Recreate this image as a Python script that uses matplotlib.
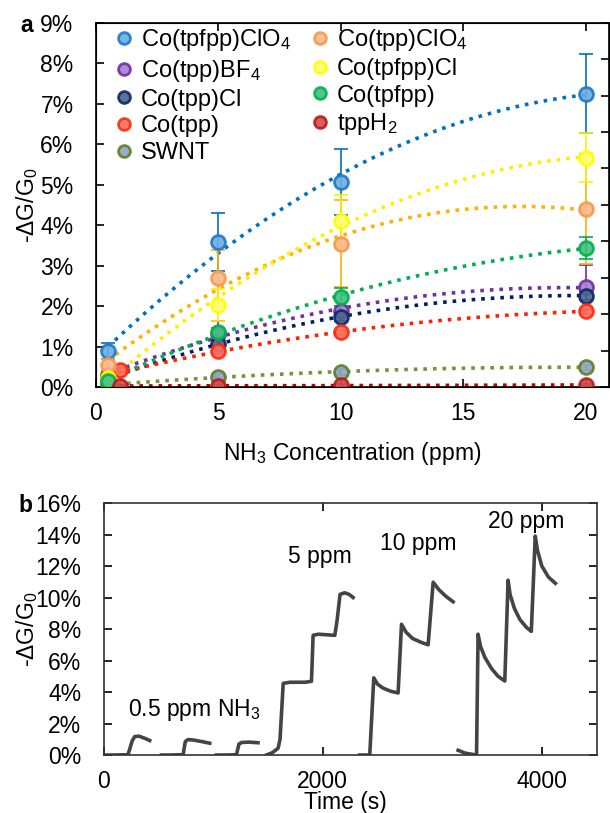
import numpy as np
import matplotlib
matplotlib.use("Agg")
import matplotlib.pyplot as plt
from matplotlib.ticker import FuncFormatter

plt.rcParams['font.family'] = ['Liberation Sans', 'DejaVu Sans']
plt.rcParams['mathtext.fontset'] = 'custom'
plt.rcParams['mathtext.rm'] = 'Liberation Sans'
plt.rcParams['mathtext.default'] = 'regular'

# panel a: response vs NH3 concentration (values in %)
names = ['Co(tpfpp)ClO$_4$', 'Co(tpp)BF$_4$', 'Co(tpp)Cl', 'Co(tpp)', 'SWNT',
         'Co(tpp)ClO$_4$', 'Co(tpfpp)Cl', 'Co(tpfpp)', 'tppH$_2$']
conc = [
    [0.5, 5, 10, 20],
    [0.5, 5, 10, 20],
    [0.5, 5, 10, 20],
    [0.5, 1, 5, 10, 20],
    [0.5, 5, 10, 20],
    [0.5, 5, 10, 20],
    [0.5, 5, 10, 20],
    [0.5, 5, 10, 20],
    [1, 5, 10, 20],
]
resp = [
    [0.88, 3.58, 5.06, 7.25],
    [0.30, 1.30, 1.89, 2.46],
    [0.20, 1.07, 1.73, 2.26],
    [0.25, 0.42, 0.88, 1.35, 1.87],
    [0.05, 0.25, 0.37, 0.49],
    [0.55, 2.69, 3.54, 4.40],
    [0.22, 2.02, 4.11, 5.67],
    [0.15, 1.36, 2.22, 3.43],
    [0.03, 0.02, 0.04, 0.05],
]
errs = [
    [0.20, 0.71, 0.82, 0.98],
    [0.05, 0.34, 0.10, 0.55],
    [0.05, 0.10, 0.10, 0.12],
    [0.05, 0.05, 0.06, 0.06, 0.06],
    [0.03, 0.08, 0.08, 0.06],
    [0.15, 0.70, 1.08, 1.35],
    [0.05, 0.40, 0.64, 0.60],
    [0.05, 0.10, 0.22, 0.27],
    [0.02, 0.02, 0.03, 0.03],
]
edge_colors = ['#1f78c8', '#7030a0', '#0d2a66', '#ff2a10', '#5f7f2a',
               '#f59a50', '#ffff00', '#00b050', '#c01818']
face_colors = ['#6aaee2', '#a77fcf', '#4a6590', '#ff7060', '#8ea4c4',
               '#f8b88a', '#ffff70', '#40c080', '#d05050']
line_colors = ['#0070c0', '#7030a0', '#002060', '#ff2000', '#76923c',
               '#ffb000', '#ffee00', '#00b050', '#c00000']

# panel b: time trace (NaN separates the runs)
time_s = [10, 100, 222, 260, 283, 320, 380, 420, np.nan,
          527, 600, 725, 745, 770, 820, 900, 968, np.nan,
          1029, 1120, 1212, 1235, 1260, 1330, 1409, np.nan,
          1486, 1540, 1592, 1610, 1639, 1700, 1837, 1897, 1912, 1960, 2110, 2130, 2158, 2200, 2240, 2277, np.nan,
          2338, 2429, 2466, 2500, 2550, 2620, 2688, 2719, 2760, 2820, 2900, 2962, 3008, 3060, 3120, 3190, np.nan,
          3236, 3300, 3404, 3418, 3440, 3480, 3540, 3600, 3662, 3692, 3710, 3750, 3800, 3860, 3904, 3940, 3960, 4000, 4060, 4124]
signal = [0.0, 0.0, 0.02, 0.9, 1.17, 1.2, 1.05, 0.92, np.nan,
          0.0, 0.0, 0.02, 0.85, 0.98, 0.95, 0.85, 0.75, np.nan,
          0.0, 0.0, 0.02, 0.7, 0.8, 0.82, 0.78, np.nan,
          0.0, 0.15, 0.43, 1.0, 4.55, 4.62, 4.62, 4.68, 7.6, 7.67, 7.6, 8.5, 10.2, 10.3, 10.2, 10.0, np.nan,
          0.0, 0.0, 4.9, 4.5, 4.25, 4.05, 3.94, 8.3, 7.8, 7.4, 7.15, 7.0, 10.97, 10.5, 10.1, 9.73, np.nan,
          0.3, 0.12, 0.0, 7.67, 6.9, 6.2, 5.5, 5.0, 4.7, 11.1, 10.2, 9.3, 8.6, 8.1, 7.85, 13.9, 13.0, 12.0, 11.3, 10.9]
ann_text = ['0.5 ppm NH$_3$', '5 ppm', '10 ppm', '20 ppm']
ann_x = [823, 1973, 2876, 3858]
ann_y = [2.83, 12.6, 13.45, 14.8]

fig = plt.figure(figsize=(6.10, 8.13), dpi=100)
pct = FuncFormatter(lambda v, p: f"{v:.0f}%")
FS = 16.5

# ---- panel a ----
ax = fig.add_axes([0.157, 0.524, 0.841, 0.448])
handles = []
for i in range(len(names)):
    x = np.array(conc[i])
    y = np.array(resp[i])
    coef = np.polyfit(x, y, 2)
    xf = np.linspace(x.min(), x.max(), 200)
    ax.plot(xf, np.polyval(coef, xf), ':', color=line_colors[i], lw=2.6, zorder=2)
    ax.errorbar(x, y, yerr=errs[i], fmt='none', ecolor=line_colors[i],
                elinewidth=1.2, capsize=5, capthick=1.2, zorder=3)
    h, = ax.plot(x, y, 'o', ms=10, mfc=face_colors[i], mec=edge_colors[i],
                 mew=2, alpha=0.9, zorder=4, label=names[i])
    handles.append(h)

ax.set_xlim(0, 20.95)
ax.set_ylim(0, 9)
ax.set_xticks([0, 5, 10, 15, 20])
ax.set_yticks(range(0, 10))
ax.yaxis.set_major_formatter(pct)
ax.tick_params(direction='in', length=6, width=1.2, labelsize=FS, top=True)
ax.tick_params(axis='x', pad=11)
ax.tick_params(axis='y', pad=16)
for s in ax.spines.values():
    s.set_linewidth(1.2)
ax.set_xlabel('NH$_3$ Concentration (ppm)', fontsize=FS)
ax.xaxis.set_label_coords(0.5, -0.146)
ax.set_ylabel('-ΔG/G$_0$', fontsize=FS)
ax.yaxis.set_label_coords(-0.108, 0.5)
ax2 = ax.twinx()
ax2.set_ylim(0, 10)
ax2.set_yticks(range(0, 11))
ax2.tick_params(direction='in', length=6, width=1.2, labelright=False)
ax.legend(handles=handles, ncol=2, loc='upper left', bbox_to_anchor=(0.0, 1.02),
          frameon=False, fontsize=FS + 0.5,
          handletextpad=0.0, labelspacing=0.2, columnspacing=0.55,
          borderaxespad=0.1, handlelength=1.4, markerscale=0.85)
fig.text(27 / 610, 1 - 25 / 813, 'a', fontsize=FS, fontweight='bold', ha='center', va='center')

# ---- panel b ----
bx = fig.add_axes([0.170, 0.0713, 0.808, 0.310])
bx.plot(time_s, signal, '-', color='#444444', lw=2.6)
for t, xx, yy in zip(ann_text, ann_x, ann_y):
    bx.text(xx, yy, t, fontsize=FS, ha='center', va='center')
bx.set_xlim(0, 4500)
bx.set_ylim(0, 16)
bx.set_xticks([0, 2000, 4000])
bx.set_yticks(range(0, 17, 2))
bx.yaxis.set_major_formatter(pct)
bx.tick_params(direction='in', length=6, width=1.2, labelsize=FS, top=True, right=True)
bx.tick_params(axis='x', pad=11)
bx.tick_params(axis='y', pad=16)
for s in bx.spines.values():
    s.set_linewidth(1.2)
    s.set_color('#333333')
bx.set_xlabel('Time (s)', fontsize=FS)
bx.xaxis.set_label_coords(0.49, -0.143)
bx.set_ylabel('-ΔG/G$_0$', fontsize=FS)
bx.yaxis.set_label_coords(-0.13, 0.5)
fig.text(25 / 610, 1 - 505 / 813, 'b', fontsize=FS, fontweight='bold', ha='center', va='center')

fig.savefig('out.png', dpi=100)
